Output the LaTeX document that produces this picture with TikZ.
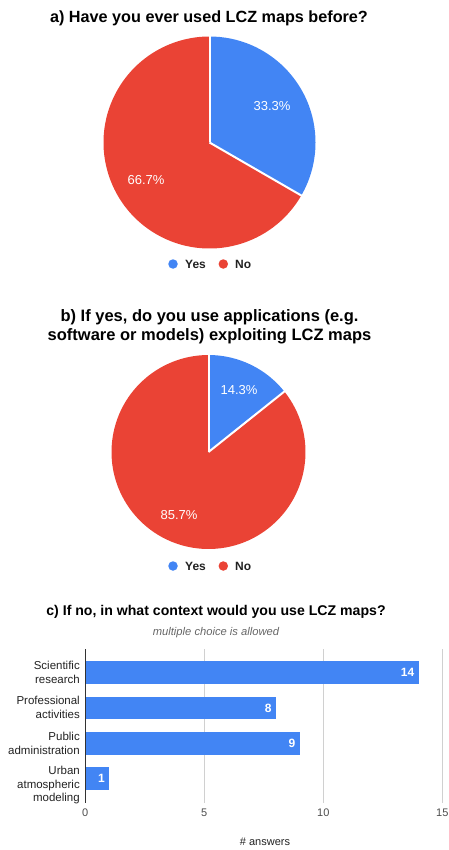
\documentclass[tikz,border=0pt]{standalone}
\usepackage{fontspec}
\setmainfont{Liberation Sans}
\definecolor{gblue}{HTML}{4285F4}
\definecolor{gred}{HTML}{EA4335}
\definecolor{txt}{HTML}{222222}
\definecolor{gridc}{HTML}{D0D0D0}

\begin{document}
\begin{tikzpicture}[x=1pt,y=1pt,
  title/.style={font=\bfseries\fontsize{#1}{19}\selectfont, text=black, align=center},
  pct/.style={font=\fontsize{13}{15}\selectfont, text=white},
  legtext/.style={font=\bfseries\fontsize{12}{14}\selectfont, text=txt, anchor=west, inner sep=0pt},
  legdot/.style={circle, inner sep=0pt, minimum size=9.5pt},
  cat/.style={font=\fontsize{11.5}{13.5}\selectfont, align=right, anchor=east, text=txt, inner sep=0pt},
  tick/.style={font=\fontsize{11}{13}\selectfont, text=black!70},
  bar/.style={fill=gblue},
  barval/.style={font=\bfseries\fontsize{12}{14}\selectfont, text=white, anchor=east, inner sep=0pt},
  sep/.style={white, line width=2pt}
]
\useasboundingbox (0,0) rectangle (449,-850);

% ---------- a) pie ----------
\node[title=16.2] (ta) at (209,-18) {a) Have you ever used LCZ maps before?};
\coordinate (ca) at (209.5,-142.5);
\def\ra{106}
\fill[gred]  (ca) -- ++(-30:\ra) arc[start angle=-30, end angle=-270, radius=\ra] -- cycle;
\fill[gblue] (ca) -- ++(90:\ra) arc[start angle=90, end angle=-30, radius=\ra] -- cycle;
\draw[sep] (ca) -- ++(90:\ra+1);
\draw[sep] (ca) -- ++(-30:\ra+1);
\node[pct] (pa1) at (272,-106) {33.3\%};
\node[pct] (pa2) at (146,-180) {66.7\%};
\node[legdot, fill=gblue] (la1) at (173,-264) {};
\node[legtext] (lya) at (185,-264) {Yes};
\node[legdot, fill=gred] (la2) at (223.3,-264) {};
\node[legtext] (lna) at (235,-264) {No};

% ---------- b) pie ----------
\node[title=16.5] (tb) at (209.5,-327) {b) If yes, do you use applications (e.g.\\software or models) exploiting LCZ maps};
\coordinate (cb) at (208.5,-452);
\def\rb{97}
\fill[gred]  (cb) -- ++(38.57:\rb) arc[start angle=38.57, end angle=-270, radius=\rb] -- cycle;
\fill[gblue] (cb) -- ++(90:\rb) arc[start angle=90, end angle=38.57, radius=\rb] -- cycle;
\draw[sep] (cb) -- ++(90:\rb+1);
\draw[sep] (cb) -- ++(38.57:\rb+1);
\node[pct] (pb1) at (239,-390) {14.3\%};
\node[pct] (pb2) at (179,-515) {85.7\%};
\node[legdot, fill=gblue] (lb1) at (173,-566) {};
\node[legtext] (lyb) at (185,-566) {Yes};
\node[legdot, fill=gred] (lb2) at (223.3,-566) {};
\node[legtext] (lnb) at (235,-566) {No};

% ---------- c) bar chart ----------
\node[title=14.1] (tc) at (216,-612) {c) If no, in what context would you use LCZ maps?};
\node[font=\itshape\fontsize{11.2}{13}\selectfont, text=black!60] (sub) at (216,-633) {multiple choice is allowed};

\def\xo{85.3}
\def\u{23.8}
% grid
\foreach \v in {5,10,15} \draw[gridc, line width=0.8pt] (\xo+\v*\u,-649) -- (\xo+\v*\u,-803);
% bars
\fill[bar] (\xo,-661)   rectangle (\xo+14*\u,-684.3);
\fill[bar] (\xo,-696.7) rectangle (\xo+8*\u,-719.3);
\fill[bar] (\xo,-732.3) rectangle (\xo+9*\u,-755);
\fill[bar] (\xo,-767.3) rectangle (\xo+1*\u,-790.3);
\draw[black!80, line width=0.8pt] (\xo,-649) -- (\xo,-803);
\node[barval] (v1) at (\xo+14*\u-4,-672.7) {14};
\node[barval] (v2) at (\xo+8*\u-4,-708) {8};
\node[barval] (v3) at (\xo+9*\u-4,-743.7) {9};
\node[barval] (v4) at (\xo+1*\u-4,-778.8) {1};
% categories
\node[cat] (c1) at (80,-672.5) {Scientific\\research};
\node[cat] (c2) at (80,-707.5) {Professional\\activities};
\node[cat] (c3) at (80,-743.3) {Public\\administration};
\node[cat] (c4) at (80,-785.5) {Urban\\atmospheric\\modeling};
% ticks
\foreach \v in {0,5,10,15} \node[tick] at (\xo+\v*\u,-812.7) {\v};
\node[font=\fontsize{11}{13}\selectfont, text=txt] (xl) at (265,-842) {\# answers};
\end{tikzpicture}
\end{document}
